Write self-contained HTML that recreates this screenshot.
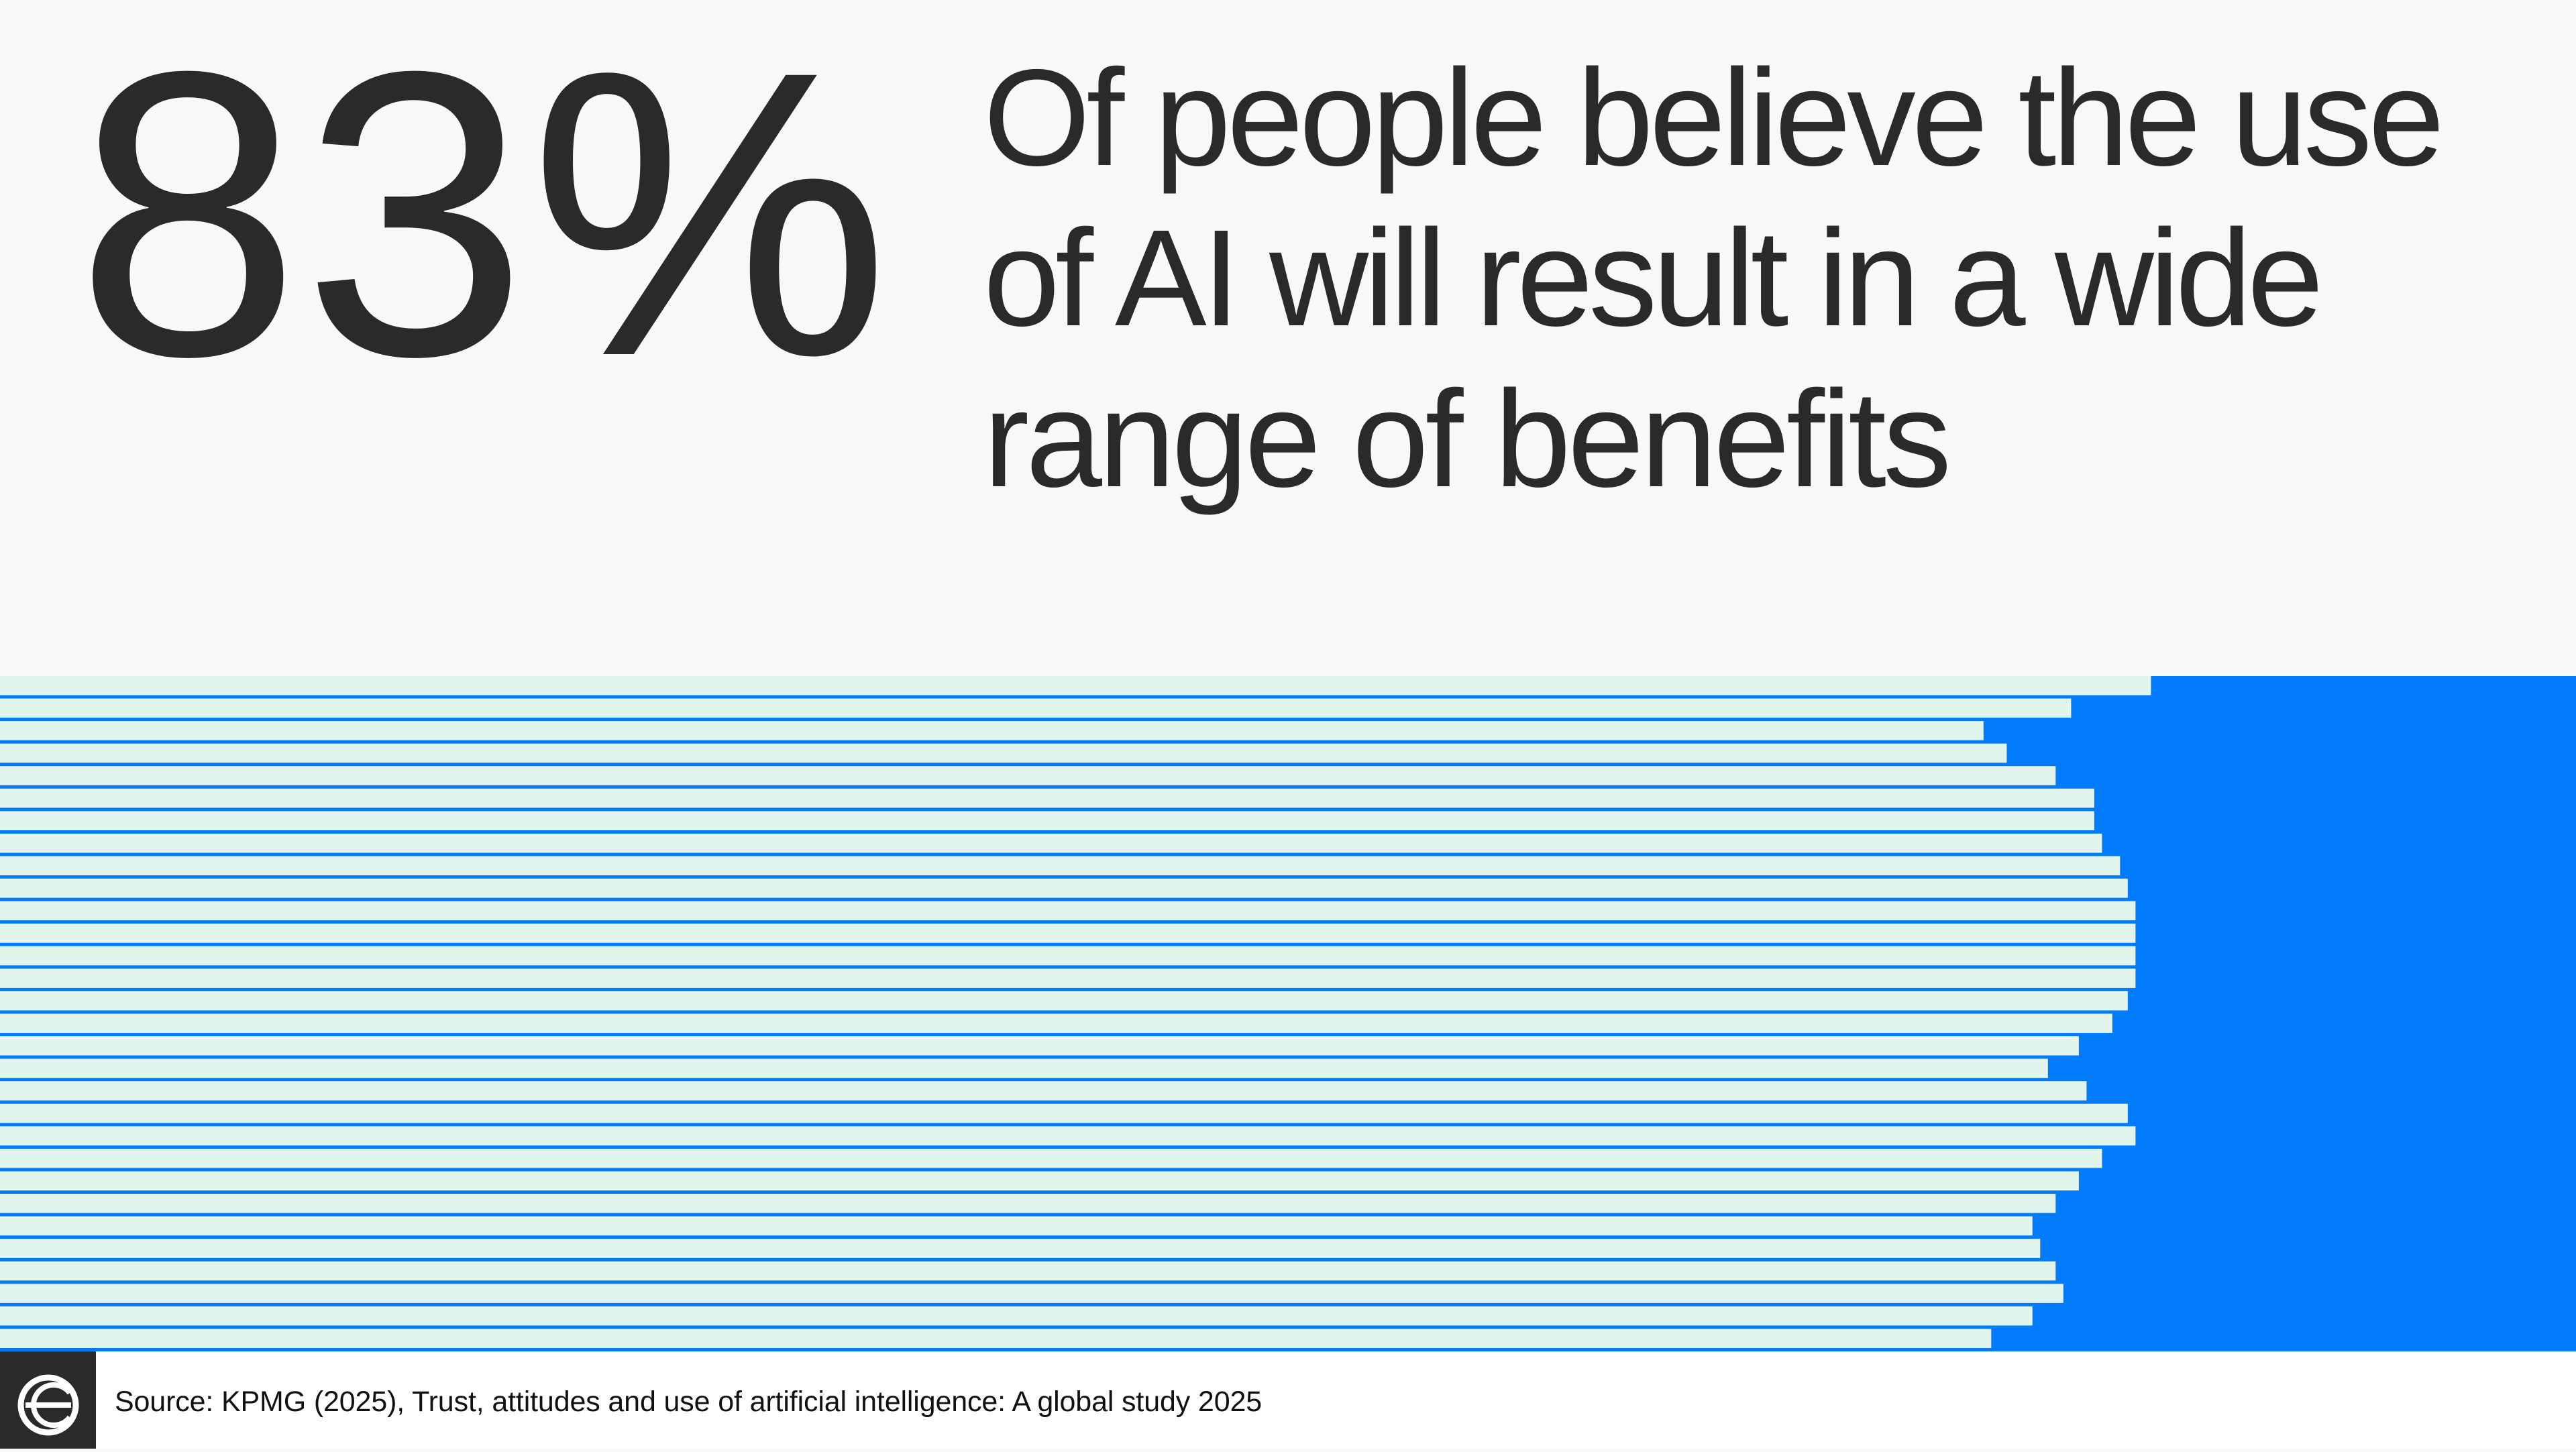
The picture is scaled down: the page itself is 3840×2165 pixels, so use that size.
<!DOCTYPE html>
<html><head><meta charset="utf-8"><style>
html,body{margin:0;padding:0}
body{width:3840px;height:2160px;position:relative;background:#f8f8f6;overflow:hidden;font-family:"Liberation Sans",sans-serif;color:#2a2a2a}
#big{position:absolute;left:112px;top:17px;font-size:605px;line-height:1;white-space:nowrap}
.hl{position:absolute;left:1466px;font-size:205px;white-space:nowrap;line-height:1}
#footer{position:absolute;left:0;top:2015px;width:3840px;height:145px;background:#fff}
#logo{position:absolute;left:0;top:0;width:143px;height:145px;background:#2a2a2a}
#src{position:absolute;left:171px;top:2069px;font-size:43px;white-space:nowrap;color:#111;line-height:1}
</style></head><body>
<div id="big">83%</div>
<div class="hl" id="l1" style="top:73px">Of people believe the use</div>
<div class="hl" id="l2" style="top:312px">of AI will result in a wide</div>
<div class="hl" id="l3" style="top:552px">range of benefits</div>
<svg id="chart" style="position:absolute;left:0;top:1008px" width="3840" height="1007"></svg>
<div id="footer">
<div id="logo">
<svg width="143" height="145" viewBox="0 0 143 145">
<circle cx="72" cy="80" r="41" fill="none" stroke="#fff" stroke-width="9"/>
<path d="M104 62 A30 30 0 1 0 104 98" fill="none" stroke="#fff" stroke-width="8"/>
<rect x="38" y="76" width="68" height="8" fill="#fff"/>
</svg></div>
</div>
<div id="src">Source: KPMG (2025), Trust, attitudes and use of artificial intelligence: A global study 2025</div>
<script>
const barIndex = [1,2,3,4,5,6,7,8,9,10,11,12,13,14,15,16,17,18,19,20,21,22,23,24,25,26,27,28,29,30];
const barValues = [83.5,80.4,77.0,77.9,79.8,81.3,81.3,81.6,82.3,82.6,82.9,82.9,82.9,82.9,82.6,82.0,80.7,79.5,81.0,82.6,82.9,81.6,80.7,79.8,78.9,79.2,79.8,80.1,78.9,77.3];
const svg = document.getElementById('chart');
const W = 3840, H = 1007;
const x = v => v / 100 * W;
const pitch = H / barIndex.length;
const y = i => i * pitch;
const NS = 'http://www.w3.org/2000/svg';
const bg = document.createElementNS(NS, 'rect');
bg.setAttribute('x', 0); bg.setAttribute('y', 0); bg.setAttribute('width', W); bg.setAttribute('height', H); bg.setAttribute('fill', '#027bfb');


svg.appendChild(bg);
barValues.forEach((v, i) => {
  const r = document.createElementNS(NS, 'rect');
  r.setAttribute('x', 0);
  r.setAttribute('y', y(i));
  r.setAttribute('width', x(v));
  r.setAttribute('height', pitch - 5);
  r.setAttribute('fill', '#e2f5ec');
  
  
  svg.appendChild(r);
});
function fit(id, target){
  const el = document.getElementById(id);
  const w = el.getBoundingClientRect().width;
  const n = el.textContent.length;
  el.style.letterSpacing = ((target - w) / n) + 'px';
}
fit('l1', 2172); fit('l2', 1991); fit('l3', 1438); fit('src', 1710); fit('big', 1217);
</script>
</body></html>
